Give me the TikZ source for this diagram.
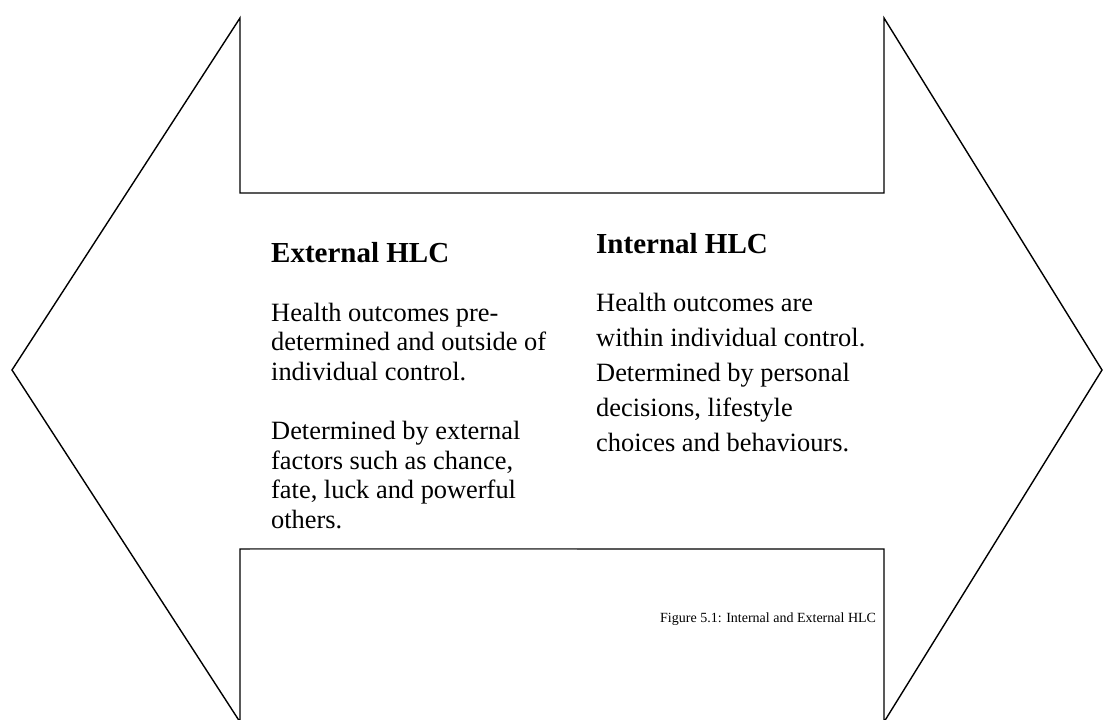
\documentclass[tikz,border=0pt]{standalone}
\usepackage{fontspec}
\setmainfont{Liberation Serif}
\usetikzlibrary{positioning}
\tikzset{hlctitle/.style={anchor=base west, inner sep=0pt, font=\fontsize{29}{33}\selectfont\bfseries}}
\tikzset{hlctext/.style={anchor=base west, inner sep=0pt, align=left, font=\fontsize{26.4}{29.5}\selectfont}}
\tikzset{hlcwide/.style={hlctext, font=\fontsize{26.4}{35}\selectfont}}
\tikzset{outline/.style={line width=1.4pt, line join=miter}}

\begin{document}
\begin{tikzpicture}[x=1pt, y=-1pt]
\useasboundingbox (0,0) rectangle (1103,720);
% double arrow outline
\draw[outline] (240,18) -- (240,193) -- (884,193) -- (884,18) -- (1102,370)
    -- (884,722) -- (884,549) -- (240,549) -- (240,722) -- (12,370) -- cycle;
% edge of the text box
\draw[gray, line width=0.8pt] (250,549) -- (577,549);

% anchor is the baseline of the last line
\node[hlctitle] (ext) at (271,262) {External HLC};
\node[hlctext] (ext1) at (271,380) {Health outcomes pre-\\determined and outside of\\individual control.};
\node[hlctext] (ext2) at (271,528) {Determined by external\\factors such as chance,\\fate, luck and powerful\\others.};

\node[hlctitle] (int) at (596,253) {Internal HLC};
\node[hlcwide] (int1) at (596,451) {Health outcomes are\\within individual control.\\Determined by personal\\decisions, lifestyle\\choices and behaviours.};

\node[anchor=base west, inner sep=0pt, font=\fontsize{14}{17}\selectfont] (cap) at (660,622) {Figure 5.1: Internal and External HLC};
\end{tikzpicture}
\end{document}
